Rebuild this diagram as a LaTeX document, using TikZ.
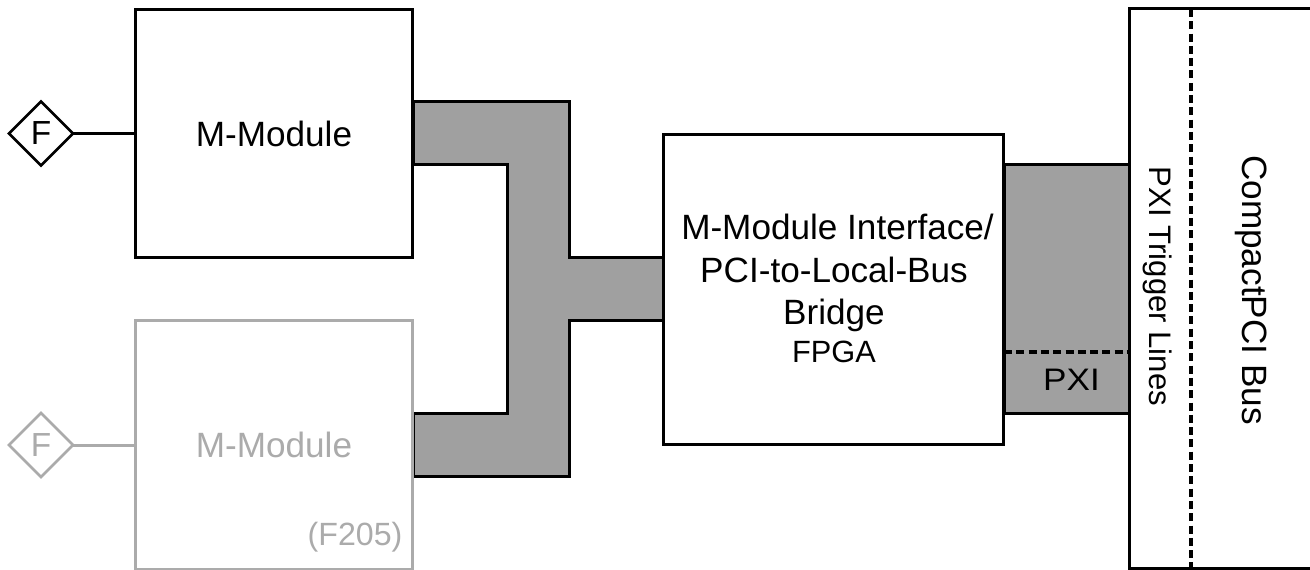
\documentclass[tikz,border=0pt]{standalone}
\usepackage{fontspec}
\setmainfont{Liberation Sans}
\usetikzlibrary{shapes.geometric}
\definecolor{busgray}{HTML}{A0A0A0}
\definecolor{fadegray}{HTML}{ABABAB}
\tikzset{
	every node/.style={inner sep=0pt, outer sep=0pt, font=\fontsize{20}{24}\selectfont},
	blockbox/.style={draw, line width=0.06cm, fill=white, minimum width=5.56cm, minimum height=4.98cm},
	fbox/.style={draw, line width=0.055cm, fill=white, shape=diamond, minimum width=1.28cm, minimum height=1.28cm, font=\fontsize{19}{24}\selectfont},
	wire/.style={line width=0.06cm},
	dashwire/.style={line width=0.07cm, dash pattern=on 0.16cm off 0.086cm},
	fade/.style={draw=fadegray, text=fadegray},
	bus/.style={draw, fill=busgray, line width=0.06cm, line join=miter}
}
\begin{document}
\begin{tikzpicture}[x=0.02cm, y=-0.02cm]
		\useasboundingbox (0,0) rectangle (1310,570);
		% gray buses go under the blocks
		\draw[bus] (413,102) -- (569,102) -- (569,258) -- (663,258) -- (663,321) -- (569,321) -- (569,476) -- (413,476) -- (413,413) -- (507,413) -- (507,165) -- (413,165) -- cycle;
		\draw[bus] (1004,165) rectangle (1129,413);
		\node[blockbox] (mod) at (274,133.5) {M-Module};
		\node[blockbox, fade] (modb) at (274,445) {M-Module};
		\node[text=fadegray, font=\fontsize{18.3}{22}\selectfont] (f205) at (355,537) {(F205)};
		\node[fbox] (f) at (41,133.5) {F};
		\node[fbox, fade] (fb) at (41,445) {F};
		\path[wire] (f) edge (mod);
		\path[wire, draw=fadegray] (fb) edge (modb);
		\node[draw, line width=0.06cm, fill=white, minimum width=6.82cm, minimum height=6.22cm] (iface) at (833.5,289.5) {};
		\node[align=center, font=\fontsize{20}{24.2}\selectfont] (ifacetxt) at (834,288.5) {\hspace*{0.14cm}M-Module Interface/\\PCI-to-Local-Bus\\Bridge\\[-0.1cm]{\fontsize{17.5}{24.2}\selectfont FPGA}};
		% backplane, open on the right
		\coordinate (bt) at (1310,9);
		\coordinate (btl) at (1129,9);
		\coordinate (bbl) at (1129,568);
		\coordinate (bb) at (1310,568);
		\draw[wire] (bt) -- (btl) -- (bbl) -- (bb);
		\coordinate (dt) at (1191,9);
		\coordinate (db) at (1191,568);
		\draw[dashwire] (dt) -- (db);
		\coordinate (pl) at (1004,352);
		\coordinate (pr) at (1129,352);
		\draw[dashwire] (pl) -- (pr);
		\node[xscale=1.13, font=\fontsize{17.7}{21}\selectfont] (pxi) at (1071.5,380) {PXI};
		\node[rotate=-90, font=\fontsize{17.7}{21}\selectfont] (trig) at (1158,286.5) {PXI Trigger Lines};
		\node[rotate=-90] (cpci) at (1251,290) {CompactPCI Bus};
	\end{tikzpicture}
\end{document}
